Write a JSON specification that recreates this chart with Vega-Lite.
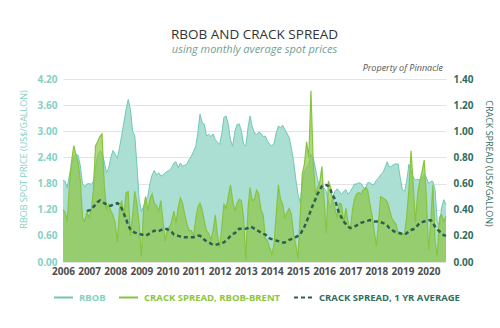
{
 "$schema": "https://vega.github.io/schema/vega-lite/v6.json",
 "width": 383, "height": 183,
 "autosize": {"type": "none"},
 "padding": {"left": 63, "top": 79, "right": 54, "bottom": 66},
 "background": "white",
 "config": {"view": {"stroke": null}, "font": "Open Sans"},
 "title": {"text": "RBOB AND CRACK SPREAD", "subtitle": "using monthly average spot prices", "anchor": "middle", "frame": "group", "fontSize": 13.5, "fontWeight": "normal", "color": "#333333", "font": "Open Sans", "subtitleFont": "Open Sans", "subtitleFontStyle": "italic", "subtitleFontSize": 11, "subtitleColor": "#6f9f95", "subtitlePadding": 3, "offset": 9},
 "data": {"values": [
  {"date":"2006-01-01","rbob":1.88,"crack":0.40},
  {"date":"2006-02-01","rbob":1.85,"crack":0.38},
  {"date":"2006-03-01","rbob":1.70,"crack":0.31},
  {"date":"2006-04-01","rbob":2.00,"crack":0.59},
  {"date":"2006-05-01","rbob":2.25,"crack":0.77},
  {"date":"2006-06-01","rbob":2.40,"crack":0.89},
  {"date":"2006-07-01","rbob":2.47,"crack":0.82},
  {"date":"2006-08-01","rbob":2.45,"crack":0.76},
  {"date":"2006-09-01","rbob":2.20,"crack":0.62},
  {"date":"2006-10-01","rbob":1.80,"crack":0.34},
  {"date":"2006-11-01","rbob":1.72,"crack":0.31},
  {"date":"2006-12-01","rbob":1.79,"crack":0.38,"avg":0.39},
  {"date":"2007-01-01","rbob":1.80,"crack":0.34,"avg":0.395},
  {"date":"2007-02-01","rbob":1.78,"crack":0.40,"avg":0.40},
  {"date":"2007-03-01","rbob":1.85,"crack":0.54,"avg":0.42},
  {"date":"2007-04-01","rbob":2.15,"crack":0.89,"avg":0.44},
  {"date":"2007-05-01","rbob":2.45,"crack":0.92,"avg":0.46},
  {"date":"2007-06-01","rbob":2.55,"crack":0.96,"avg":0.47},
  {"date":"2007-07-01","rbob":2.50,"crack":0.98,"avg":0.46},
  {"date":"2007-08-01","rbob":2.30,"crack":0.59,"avg":0.45},
  {"date":"2007-09-01","rbob":2.05,"crack":0.41,"avg":0.44},
  {"date":"2007-10-01","rbob":2.15,"crack":0.44,"avg":0.43},
  {"date":"2007-11-01","rbob":2.40,"crack":0.39,"avg":0.43},
  {"date":"2007-12-01","rbob":2.56,"crack":0.36,"avg":0.44},
  {"date":"2008-01-01","rbob":2.47,"crack":0.30,"avg":0.445},
  {"date":"2008-02-01","rbob":2.38,"crack":0.15,"avg":0.45},
  {"date":"2008-03-01","rbob":2.62,"crack":0.41,"avg":0.44},
  {"date":"2008-04-01","rbob":2.90,"crack":0.47,"avg":0.41},
  {"date":"2008-05-01","rbob":3.20,"crack":0.34,"avg":0.37},
  {"date":"2008-06-01","rbob":3.50,"crack":0.53,"avg":0.33},
  {"date":"2008-07-01","rbob":3.73,"crack":0.54,"avg":0.28},
  {"date":"2008-08-01","rbob":3.50,"crack":0.20,"avg":0.25},
  {"date":"2008-09-01","rbob":3.00,"crack":0.36,"avg":0.235},
  {"date":"2008-10-01","rbob":2.90,"crack":0.54,"avg":0.225},
  {"date":"2008-11-01","rbob":2.20,"crack":0.44,"avg":0.22},
  {"date":"2008-12-01","rbob":1.45,"crack":0.29,"avg":0.215},
  {"date":"2009-01-01","rbob":1.16,"crack":0.04,"avg":0.21},
  {"date":"2009-02-01","rbob":1.28,"crack":0.41,"avg":0.205},
  {"date":"2009-03-01","rbob":1.39,"crack":0.50,"avg":0.20},
  {"date":"2009-04-01","rbob":1.50,"crack":0.39,"avg":0.21},
  {"date":"2009-05-01","rbob":1.80,"crack":0.48,"avg":0.22},
  {"date":"2009-06-01","rbob":2.00,"crack":0.52,"avg":0.23},
  {"date":"2009-07-01","rbob":2.10,"crack":0.45,"avg":0.24},
  {"date":"2009-08-01","rbob":2.00,"crack":0.43,"avg":0.24},
  {"date":"2009-09-01","rbob":2.05,"crack":0.39,"avg":0.235},
  {"date":"2009-10-01","rbob":1.97,"crack":0.47,"avg":0.245},
  {"date":"2009-11-01","rbob":2.00,"crack":0.30,"avg":0.25},
  {"date":"2009-12-01","rbob":2.05,"crack":0.16,"avg":0.255},
  {"date":"2010-01-01","rbob":2.08,"crack":0.26,"avg":0.25},
  {"date":"2010-02-01","rbob":2.10,"crack":0.27,"avg":0.24},
  {"date":"2010-03-01","rbob":2.17,"crack":0.31,"avg":0.23},
  {"date":"2010-04-01","rbob":2.27,"crack":0.39,"avg":0.21},
  {"date":"2010-05-01","rbob":2.30,"crack":0.30,"avg":0.205},
  {"date":"2010-06-01","rbob":2.16,"crack":0.42,"avg":0.20},
  {"date":"2010-07-01","rbob":2.27,"crack":0.49,"avg":0.195},
  {"date":"2010-08-01","rbob":2.20,"crack":0.45,"avg":0.19},
  {"date":"2010-09-01","rbob":2.22,"crack":0.36,"avg":0.19},
  {"date":"2010-10-01","rbob":2.25,"crack":0.29,"avg":0.19},
  {"date":"2010-11-01","rbob":2.35,"crack":0.24,"avg":0.19},
  {"date":"2010-12-01","rbob":2.43,"crack":0.24,"avg":0.19},
  {"date":"2011-01-01","rbob":2.54,"crack":0.20,"avg":0.19},
  {"date":"2011-02-01","rbob":2.66,"crack":0.33,"avg":0.195},
  {"date":"2011-03-01","rbob":2.95,"crack":0.42,"avg":0.20},
  {"date":"2011-04-01","rbob":3.39,"crack":0.45,"avg":0.20},
  {"date":"2011-05-01","rbob":3.20,"crack":0.40,"avg":0.19},
  {"date":"2011-06-01","rbob":3.16,"crack":0.31,"avg":0.17},
  {"date":"2011-07-01","rbob":2.89,"crack":0.24,"avg":0.16},
  {"date":"2011-08-01","rbob":2.93,"crack":0.22,"avg":0.15},
  {"date":"2011-09-01","rbob":2.88,"crack":0.17,"avg":0.14},
  {"date":"2011-10-01","rbob":2.94,"crack":0.24,"avg":0.13},
  {"date":"2011-11-01","rbob":2.81,"crack":0.36,"avg":0.13},
  {"date":"2011-12-01","rbob":2.75,"crack":0.21,"avg":0.135},
  {"date":"2012-01-01","rbob":2.70,"crack":0.11,"avg":0.14},
  {"date":"2012-02-01","rbob":2.96,"crack":0.27,"avg":0.145},
  {"date":"2012-03-01","rbob":3.32,"crack":0.44,"avg":0.15},
  {"date":"2012-04-01","rbob":3.35,"crack":0.41,"avg":0.165},
  {"date":"2012-05-01","rbob":3.16,"crack":0.50,"avg":0.18},
  {"date":"2012-06-01","rbob":2.80,"crack":0.59,"avg":0.20},
  {"date":"2012-07-01","rbob":2.66,"crack":0.47,"avg":0.215},
  {"date":"2012-08-01","rbob":3.00,"crack":0.39,"avg":0.22},
  {"date":"2012-09-01","rbob":3.16,"crack":0.45,"avg":0.24},
  {"date":"2012-10-01","rbob":3.17,"crack":0.48,"avg":0.255},
  {"date":"2012-11-01","rbob":3.00,"crack":0.47,"avg":0.255},
  {"date":"2012-12-01","rbob":2.70,"crack":0.34,"avg":0.255},
  {"date":"2013-01-01","rbob":2.66,"crack":0.02,"avg":0.255},
  {"date":"2013-02-01","rbob":3.08,"crack":0.41,"avg":0.26},
  {"date":"2013-03-01","rbob":3.35,"crack":0.57,"avg":0.27},
  {"date":"2013-04-01","rbob":3.10,"crack":0.47,"avg":0.265},
  {"date":"2013-05-01","rbob":2.96,"crack":0.48,"avg":0.255},
  {"date":"2013-06-01","rbob":2.93,"crack":0.55,"avg":0.245},
  {"date":"2013-07-01","rbob":2.98,"crack":0.52,"avg":0.235},
  {"date":"2013-08-01","rbob":2.95,"crack":0.40,"avg":0.225},
  {"date":"2013-09-01","rbob":2.88,"crack":0.36,"avg":0.215},
  {"date":"2013-10-01","rbob":2.89,"crack":0.18,"avg":0.21},
  {"date":"2013-11-01","rbob":2.77,"crack":0.16,"avg":0.195},
  {"date":"2013-12-01","rbob":2.70,"crack":0.11,"avg":0.18},
  {"date":"2014-01-01","rbob":2.66,"crack":0.06,"avg":0.175},
  {"date":"2014-02-01","rbob":2.73,"crack":0.14,"avg":0.17},
  {"date":"2014-03-01","rbob":2.96,"crack":0.36,"avg":0.165},
  {"date":"2014-04-01","rbob":3.12,"crack":0.59,"avg":0.16},
  {"date":"2014-05-01","rbob":3.08,"crack":0.48,"avg":0.155},
  {"date":"2014-06-01","rbob":3.14,"crack":0.44,"avg":0.15},
  {"date":"2014-07-01","rbob":3.04,"crack":0.34,"avg":0.15},
  {"date":"2014-08-01","rbob":2.95,"crack":0.38,"avg":0.16},
  {"date":"2014-09-01","rbob":2.85,"crack":0.41,"avg":0.17},
  {"date":"2014-10-01","rbob":2.60,"crack":0.36,"avg":0.175},
  {"date":"2014-11-01","rbob":2.30,"crack":0.21,"avg":0.18},
  {"date":"2014-12-01","rbob":1.90,"crack":0.13,"avg":0.19},
  {"date":"2015-01-01","rbob":1.55,"crack":0.03,"avg":0.20},
  {"date":"2015-02-01","rbob":1.36,"crack":0.36,"avg":0.21},
  {"date":"2015-03-01","rbob":1.78,"crack":0.67,"avg":0.24},
  {"date":"2015-04-01","rbob":2.08,"crack":0.75,"avg":0.27},
  {"date":"2015-05-01","rbob":2.16,"crack":0.92,"avg":0.31},
  {"date":"2015-06-01","rbob":2.24,"crack":0.80,"avg":0.35},
  {"date":"2015-07-01","rbob":2.47,"crack":1.31,"avg":0.40},
  {"date":"2015-08-01","rbob":2.39,"crack":0.77,"avg":0.44},
  {"date":"2015-09-01","rbob":2.16,"crack":0.52,"avg":0.48},
  {"date":"2015-10-01","rbob":1.90,"crack":0.57,"avg":0.52},
  {"date":"2015-11-01","rbob":1.72,"crack":0.61,"avg":0.55},
  {"date":"2015-12-01","rbob":1.75,"crack":0.73,"avg":0.58},
  {"date":"2016-01-01","rbob":1.70,"crack":0.47,"avg":0.59},
  {"date":"2016-02-01","rbob":1.62,"crack":0.22,"avg":0.59},
  {"date":"2016-03-01","rbob":1.40,"crack":0.62,"avg":0.58},
  {"date":"2016-04-01","rbob":1.24,"crack":0.57,"avg":0.55},
  {"date":"2016-05-01","rbob":1.50,"crack":0.47,"avg":0.51},
  {"date":"2016-06-01","rbob":1.62,"crack":0.41,"avg":0.48},
  {"date":"2016-07-01","rbob":1.68,"crack":0.34,"avg":0.42},
  {"date":"2016-08-01","rbob":1.62,"crack":0.45,"avg":0.37},
  {"date":"2016-09-01","rbob":1.55,"crack":0.44,"avg":0.34},
  {"date":"2016-10-01","rbob":1.62,"crack":0.30,"avg":0.31},
  {"date":"2016-11-01","rbob":1.66,"crack":0.41,"avg":0.29},
  {"date":"2016-12-01","rbob":1.55,"crack":0.31,"avg":0.27},
  {"date":"2017-01-01","rbob":1.62,"crack":0.24,"avg":0.26},
  {"date":"2017-02-01","rbob":1.70,"crack":0.40,"avg":0.265},
  {"date":"2017-03-01","rbob":1.79,"crack":0.48,"avg":0.27},
  {"date":"2017-04-01","rbob":1.79,"crack":0.52,"avg":0.28},
  {"date":"2017-05-01","rbob":1.82,"crack":0.53,"avg":0.29},
  {"date":"2017-06-01","rbob":1.80,"crack":0.52,"avg":0.30},
  {"date":"2017-07-01","rbob":1.72,"crack":0.55,"avg":0.305},
  {"date":"2017-08-01","rbob":1.66,"crack":0.57,"avg":0.31},
  {"date":"2017-09-01","rbob":1.82,"crack":0.55,"avg":0.315},
  {"date":"2017-10-01","rbob":1.82,"crack":0.45,"avg":0.32},
  {"date":"2017-11-01","rbob":1.78,"crack":0.36,"avg":0.315},
  {"date":"2017-12-01","rbob":1.78,"crack":0.24,"avg":0.31},
  {"date":"2018-01-01","rbob":1.88,"crack":0.12,"avg":0.31},
  {"date":"2018-02-01","rbob":1.93,"crack":0.31,"avg":0.31},
  {"date":"2018-03-01","rbob":2.00,"crack":0.50,"avg":0.305},
  {"date":"2018-04-01","rbob":2.05,"crack":0.49,"avg":0.30},
  {"date":"2018-05-01","rbob":2.16,"crack":0.48,"avg":0.29},
  {"date":"2018-06-01","rbob":2.30,"crack":0.46,"avg":0.28},
  {"date":"2018-07-01","rbob":2.18,"crack":0.41,"avg":0.26},
  {"date":"2018-08-01","rbob":2.20,"crack":0.34,"avg":0.25},
  {"date":"2018-09-01","rbob":2.24,"crack":0.31,"avg":0.235},
  {"date":"2018-10-01","rbob":2.25,"crack":0.29,"avg":0.23},
  {"date":"2018-11-01","rbob":2.25,"crack":0.22,"avg":0.225},
  {"date":"2018-12-01","rbob":1.93,"crack":0.21,"avg":0.22},
  {"date":"2019-01-01","rbob":1.66,"crack":0.21,"avg":0.215},
  {"date":"2019-02-01","rbob":1.62,"crack":0.22,"avg":0.21},
  {"date":"2019-03-01","rbob":1.85,"crack":0.35,"avg":0.22},
  {"date":"2019-04-01","rbob":2.24,"crack":0.55,"avg":0.235},
  {"date":"2019-05-01","rbob":2.10,"crack":0.85,"avg":0.245},
  {"date":"2019-06-01","rbob":1.95,"crack":0.59,"avg":0.25},
  {"date":"2019-07-01","rbob":1.88,"crack":0.30,"avg":0.26},
  {"date":"2019-08-01","rbob":1.90,"crack":0.52,"avg":0.28},
  {"date":"2019-09-01","rbob":1.88,"crack":0.62,"avg":0.30},
  {"date":"2019-10-01","rbob":1.93,"crack":0.69,"avg":0.305},
  {"date":"2019-11-01","rbob":2.00,"crack":0.78,"avg":0.31},
  {"date":"2019-12-01","rbob":1.95,"crack":0.50,"avg":0.315},
  {"date":"2020-01-01","rbob":1.80,"crack":0.09,"avg":0.32},
  {"date":"2020-02-01","rbob":1.85,"crack":0.31,"avg":0.32},
  {"date":"2020-03-01","rbob":1.85,"crack":0.59,"avg":0.30},
  {"date":"2020-04-01","rbob":1.66,"crack":0.16,"avg":0.27},
  {"date":"2020-05-01","rbob":0.93,"crack":0.04,"avg":0.25},
  {"date":"2020-06-01","rbob":0.85,"crack":0.34,"avg":0.235},
  {"date":"2020-07-01","rbob":1.24,"crack":0.36,"avg":0.22},
  {"date":"2020-08-01","rbob":1.43,"crack":0.31,"avg":0.205},
  {"date":"2020-09-01","rbob":1.32,"crack":0.35,"avg":0.20,"note":"Property of Pinnacle"}
 ]},
 "encoding": {
  "x": {"field": "date", "type": "temporal", "scale": {"type": "utc", "nice": false},
        "axis": {"title": null, "format": "%Y", "tickCount": {"interval": "year", "step": 1}, "labelFlush": false, "domain": false, "ticks": false, "grid": false, "labelColor": "#4d4d4d", "labelFontWeight": "bold", "labelFontSize": 10, "labelPadding": 4, "labelFont": "Open Sans"}}
 },
 "layer": [
  {
   "encoding": {
    "y": {"field": "rbob", "type": "quantitative", "scale": {"domain": [0, 4.2], "nice": false},
          "axis": {"title": "RBOB SPOT PRICE (US$/GALLON)", "values": [0, 0.6, 1.2, 1.8, 2.4, 3.0, 3.6, 4.2], "format": ".2f", "domain": false, "ticks": false, "grid": true, "gridColor": "#e3e3e3", "labelColor": "#84d1c4", "labelFontWeight": "bold", "labelFontSize": 10, "labelPadding": 6, "labelFont": "Open Sans", "titleColor": "#84d1c4", "titleFontSize": 9, "titleFontWeight": "normal", "titleFont": "Open Sans", "titlePadding": 8, "titleY": 80}}
   },
   "layer": [
    {"mark": {"type": "area", "color": "#abdfd3", "opacity": 1}},
    {"mark": {"type": "line", "strokeWidth": 1},
     "encoding": {"color": {"datum": "RBOB", "scale": {"domain": ["RBOB", "CRACK SPREAD, RBOB-BRENT", "CRACK SPREAD, 1 YR AVERAGE"], "range": ["#6fc8b5", "#86c440", "#2b5f53"]},
       "legend": {"title": null, "orient": "none", "legendX": -10, "legendY": 208, "direction": "horizontal", "columns": 3, "symbolType": "stroke", "symbolSize": 360, "symbolStrokeWidth": 2, "labelFontSize": 9.5, "labelFontWeight": "bold", "labelFont": "Open Sans", "labelLimit": 300, "labelOffset": 5, "columnPadding": 9,
         "labelColor": {"expr": "datum.value == 'RBOB' ? '#84d1c4' : (datum.value == 'CRACK SPREAD, RBOB-BRENT' ? '#8cc63f' : '#2f6e60')"},
         "symbolDash": {"expr": "datum.value == 'CRACK SPREAD, 1 YR AVERAGE' ? [4, 3] : [1, 0]"}}}}},
    {"transform": [{"filter": "datum.note != null"}],
     "mark": {"type": "text", "align": "right", "baseline": "bottom", "dy": -6, "dx": -3, "fontStyle": "italic", "fontSize": 9, "color": "#555555", "font": "Open Sans"},
     "encoding": {"y": {"datum": 4.2, "type": "quantitative"}, "text": {"field": "note"}}}
   ]
  },
  {
   "encoding": {
    "y": {"field": "crack", "type": "quantitative", "scale": {"domain": [0, 1.4], "nice": false},
          "axis": {"title": "CRACK SPREAD (US$/GALLON)", "orient": "right", "values": [0, 0.2, 0.4, 0.6, 0.8, 1.0, 1.2, 1.4], "format": ".2f", "domain": false, "ticks": false, "grid": false, "labelColor": "#2f6e60", "labelFontWeight": "bold", "labelFontSize": 10, "labelPadding": 7, "labelFont": "Open Sans", "titleColor": "#2f6e60", "titleFontSize": 9, "titleFontWeight": "normal", "titleFont": "Open Sans", "titlePadding": 10, "titleY": 84}}
   },
   "layer": [
    {"mark": {"type": "area", "color": "#8cc63f", "opacity": 0.68}},
    {"mark": {"type": "line", "strokeWidth": 1.2},
     "encoding": {"color": {"datum": "CRACK SPREAD, RBOB-BRENT"}}},
    {"mark": {"type": "line", "strokeWidth": 2.5, "strokeDash": [4, 3]},
     "encoding": {"y": {"field": "avg", "type": "quantitative"}, "color": {"datum": "CRACK SPREAD, 1 YR AVERAGE"}}}
   ]
  }
 ],
 "resolve": {"scale": {"y": "independent"}}
}
